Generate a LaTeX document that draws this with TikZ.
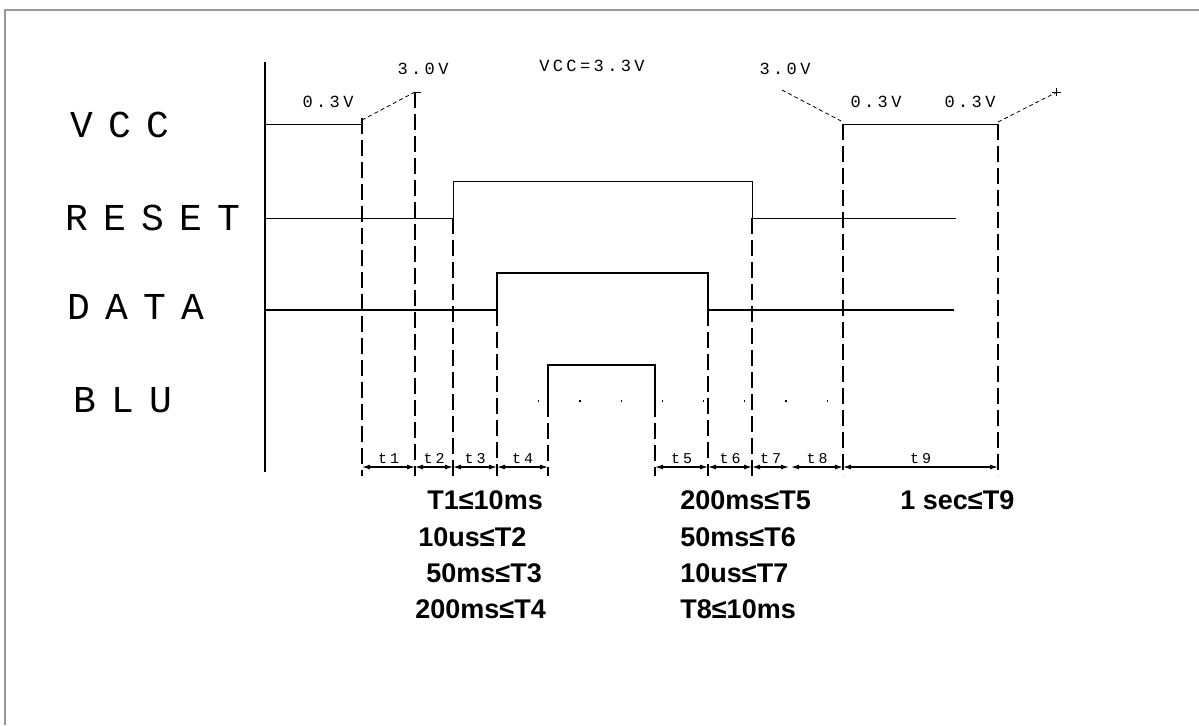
\documentclass[tikz,border=0pt]{standalone}
\usepackage{fontspec}
\setmainfont{Liberation Sans}
\newfontfamily\plotfont[LetterSpace=40]{Liberation Mono}
\newfontfamily\notefont[LetterSpace=20]{Liberation Mono}
\usetikzlibrary{arrows.meta}
\definecolor{framegray}{HTML}{999999}
\tikzset{
  siglabel/.style={font=\plotfont\fontsize{19}{19}\selectfont,anchor=west,inner sep=0pt},
  voltnote/.style={font=\notefont\fontsize{8.5}{9}\selectfont,inner sep=0pt},
  tlabel/.style={font=\notefont\fontsize{7.5}{7.5}\selectfont,inner sep=0pt},
  spec/.style={font=\bfseries\fontsize{13.5}{13.5}\selectfont,anchor=west,inner sep=0pt},
  guide/.style={dash pattern=on 8pt off 3pt,line width=0.6pt},
  ramp/.style={dash pattern=on 2pt off 1.5pt,line width=0.4pt},
  thinsig/.style={line width=0.5pt},
  boldsig/.style={line width=1pt},
  dim/.style={{Latex[length=4pt,width=2.5pt]}-{Latex[length=4pt,width=2.5pt]},line width=0.6pt}
}
\begin{document}
\begin{tikzpicture}[x=0.5pt,y=-0.5pt]
\useasboundingbox (0,0) rectangle (1199,725);
% frame and time axis
\draw[framegray,line width=1pt] (5,725) -- (5,10) -- (1199,10);
\draw[line width=1.2pt] (265,62) -- (265,472);

% signal names
\node[siglabel] (vcc) at (70,125) {VCC};
\node[siglabel] (reset) at (65,218) {RESET};
\node[siglabel] (data) at (67,307) {DATA};
\node[siglabel] (blu) at (73,400) {BLU};

% timing guides
\foreach \x/\top in {362/118,415/92,453/218,497/310,548/401,655/401,708/310,752/218,843/124,998/124}
  \draw[guide] (\x,\top) -- (\x,476);

% VCC
\draw[thinsig] (265,124) -- (362,124);
\draw[ramp] (362,120) -- (415,92);
\draw[thinsig] (415,92) -- (421,92);
\draw[ramp] (782,90) -- (843,122);
\draw[thinsig] (843,124) -- (998,124);
\draw[ramp] (998,122) -- (1057,92);
\draw[thinsig] (1052,92) -- (1061,92) (1056,88) -- (1056,96);

\node[voltnote] (v03a) at (328,102) {0.3V};
\node[voltnote] (v30a) at (423,69) {3.0V};
\node[voltnote] (vccnote) at (592,66) {VCC=3.3V};
\node[voltnote] (v30b) at (785,69) {3.0V};
\node[voltnote] (v03b) at (876,102) {0.3V};
\node[voltnote] (v03c) at (970,102) {0.3V};

% RESET
\draw[thinsig] (265,218) -- (453,218) -- (453,181) -- (752,181) -- (752,218) -- (956,218);
% DATA
\draw[boldsig] (265,310) -- (497,310) -- (497,273) -- (708,273) -- (708,310) -- (954,310);
% BLU
\draw[boldsig] (548,401) -- (548,365) -- (655,365) -- (655,401);
\draw[dash pattern=on 0.6pt off 20pt,line width=0.6pt] (497,401) -- (848,401);

% intervals
\foreach \a/\b/\t in {362/415/t1,415/453/t2,453/497/t3,497/548/t4,655/708/t5,708/752/t6,752/789/t7,791/843/t8,843/998/t9}{
  \draw[dim] (\a,467) -- (\b,467);
  \node[tlabel] (lbl\t) at ({(\a+\b)/2},459) {\t};
}

% limits
\node[spec] (s1) at (427,500) {T1≤10ms};
\node[spec] (s2) at (418,537) {10us≤T2};
\node[spec] (s3) at (426,573) {50ms≤T3};
\node[spec] (s4) at (415,609) {200ms≤T4};
\node[spec] (s5) at (680,500) {200ms≤T5};
\node[spec] (s6) at (680,537) {50ms≤T6};
\node[spec] (s7) at (680,573) {10us≤T7};
\node[spec] (s8) at (680,609) {T8≤10ms};
\node[spec] (s9) at (900,500) {1 sec≤T9};
\end{tikzpicture}
\end{document}
